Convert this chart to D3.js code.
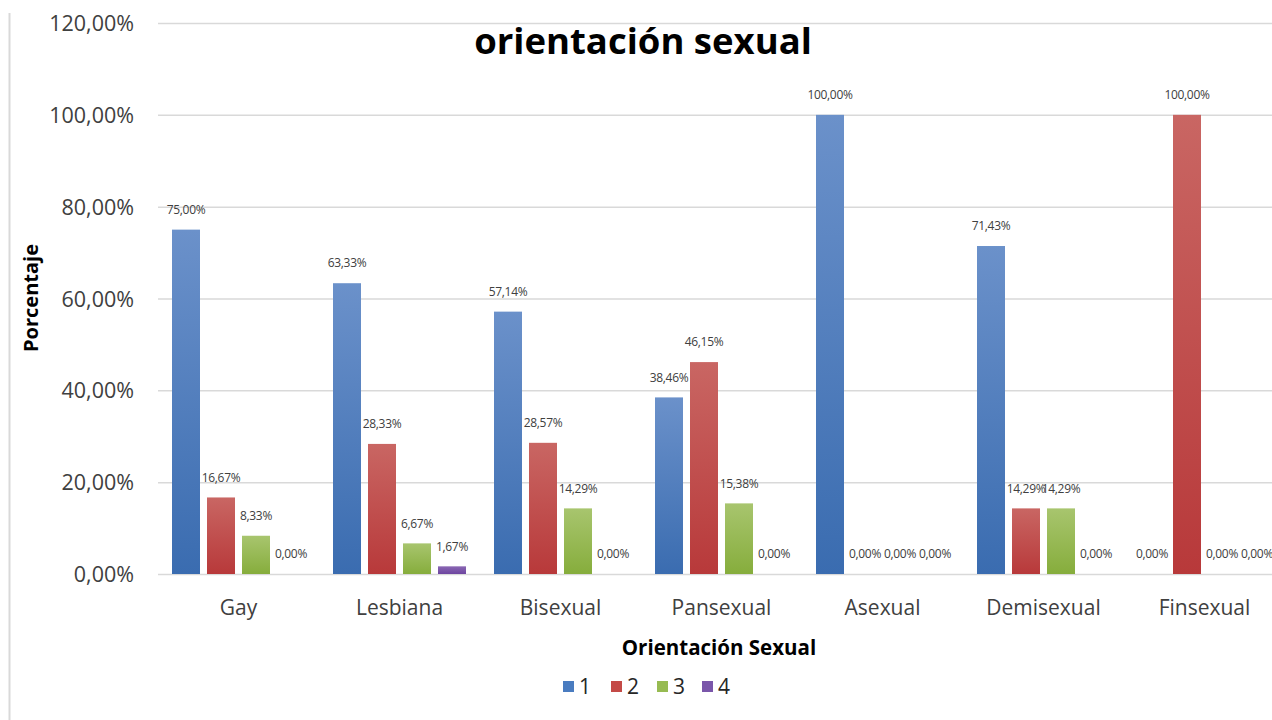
<!DOCTYPE html>
<html><head><meta charset="utf-8">
<script src="https://cdn.jsdelivr.net/npm/d3@7"></script>
<style>
html,body{margin:0;padding:0;background:#fff;}
svg text{font-family:"Open Sans","Lato",sans-serif;}
</style></head>
<body>
<svg id="chart" width="1272" height="720"></svg>
<script>
const categories = ["Gay","Lesbiana","Bisexual","Pansexual","Asexual","Demisexual","Finsexual"];
const seriesNames = ["1","2","3","4"];
const series1 = [75.00, 63.33, 57.14, 38.46, 100.00, 71.43, 0.00];
const series2 = [16.67, 28.33, 28.57, 46.15, 0.00, 14.29, 100.00];
const series3 = [8.33, 6.67, 14.29, 15.38, 0.00, 14.29, 0.00];
const series4 = [0.00, 1.67, 0.00, 0.00, 0.00, 0.00, 0.00];
const yTicks = [0, 20, 40, 60, 80, 100, 120];
const allSeries = [series1, series2, series3, series4];

const colors = [
  {top:"#6b91ca", bot:"#3a6cb0", leg:"#4a7cc0"},
  {top:"#c96663", bot:"#b8393a", leg:"#c44a47"},
  {top:"#a8c56e", bot:"#86ad3c", leg:"#97bb52"},
  {top:"#8a67b3", bot:"#6d45a0", leg:"#7a56aa"}
];

const svg = d3.select("#chart");
const fmt = v => v.toFixed(2).replace(".", ",") + "%";

const x0 = d3.scaleBand().domain(categories).range([158, 1285]).padding(0);
const x1 = d3.scaleBand().domain(seriesNames).range([0, x0.bandwidth()]).paddingInner(0.2).paddingOuter(0.4);
const y = d3.scaleLinear().domain([0, 120]).range([574, 23]);

const defs = svg.append("defs");
colors.forEach((c, i) => {
  const g = defs.append("linearGradient").attr("id", "g" + i).attr("x1", 0).attr("y1", 0).attr("x2", 0).attr("y2", 1);
  g.append("stop").attr("offset", "0%").attr("stop-color", c.top);
  g.append("stop").attr("offset", "100%").attr("stop-color", c.bot);
});

svg.append("line").attr("x1", 9.5).attr("x2", 9.5).attr("y1", 13).attr("y2", 720)
  .attr("stroke", "#d9d9d9").attr("stroke-width", 2);

const yAxis = d3.axisLeft(y).tickValues(yTicks).tickSize(-(1272 - 158)).tickFormat(d => d.toFixed(2).replace(".", ",") + "%").tickPadding(24);
const yg = svg.append("g").attr("transform", "translate(158,0)").call(yAxis);
yg.select(".domain").remove();
yg.selectAll(".tick line").attr("stroke", "#d9d9d9").attr("stroke-width", 1.5);
yg.selectAll(".tick text").attr("fill", "#404040").attr("font-size", 21.5).attr("dy", "0.35em");

const groups = svg.append("g").selectAll("g").data(categories).join("g")
  .attr("transform", d => `translate(${x0(d)},0)`);

groups.each(function(cat, ci) {
  const g = d3.select(this);
  const data = seriesNames.map((s, si) => ({s, si, v: allSeries[si][ci]}));
  g.selectAll("rect").data(data.filter(d => d.v > 0)).join("rect")
    .attr("x", d => x1(d.s))
    .attr("y", d => y(d.v))
    .attr("width", x1.bandwidth())
    .attr("height", d => y(0) - y(d.v))
    .attr("fill", d => `url(#g${d.si})`);
  g.selectAll("text").data(data).join("text")
    .attr("x", d => x1(d.s) + x1.bandwidth() / 2)
    .attr("y", d => y(d.v) - 20)
    .attr("dy", "0.35em")
    .attr("text-anchor", "middle")
    .attr("font-size", 12)
    .attr("letter-spacing", "-0.3")
    .attr("fill", "#404040")
    .text(d => fmt(d.v));
});

const xAxis = d3.axisBottom(x0).tickSize(0).tickPadding(0);
const xg = svg.append("g").attr("transform", "translate(0,574)").call(xAxis);
xg.select(".domain").remove();
xg.selectAll(".tick text").attr("fill", "#404040").attr("font-size", 21).attr("dy", 0).attr("y", 41);

svg.append("text").attr("x", 643).attr("y", 54).attr("text-anchor", "middle")
  .attr("font-size", 36.5).attr("font-weight", "bold").attr("fill", "#000").text("orientación sexual");
svg.append("text").attr("transform", "translate(38,298) rotate(-90)").attr("text-anchor", "middle")
  .attr("font-size", 20).attr("font-weight", "bold").attr("fill", "#000").text("Porcentaje");
svg.append("text").attr("x", 719).attr("y", 655).attr("text-anchor", "middle")
  .attr("font-size", 20.5).attr("font-weight", "bold").attr("fill", "#000").text("Orientación Sexual");

const legX = [563, 611, 657, 702];
const leg = svg.append("g").selectAll("g").data(seriesNames).join("g")
  .attr("transform", (d, i) => `translate(${legX[i]},681)`);
leg.append("rect").attr("width", 11).attr("height", 11).attr("fill", (d, i) => colors[i].leg);
leg.append("text").attr("x", 16).attr("y", 6).attr("dy", "0.35em").attr("font-size", 21).attr("fill", "#262626").text(d => d);
</script>
</body></html>
